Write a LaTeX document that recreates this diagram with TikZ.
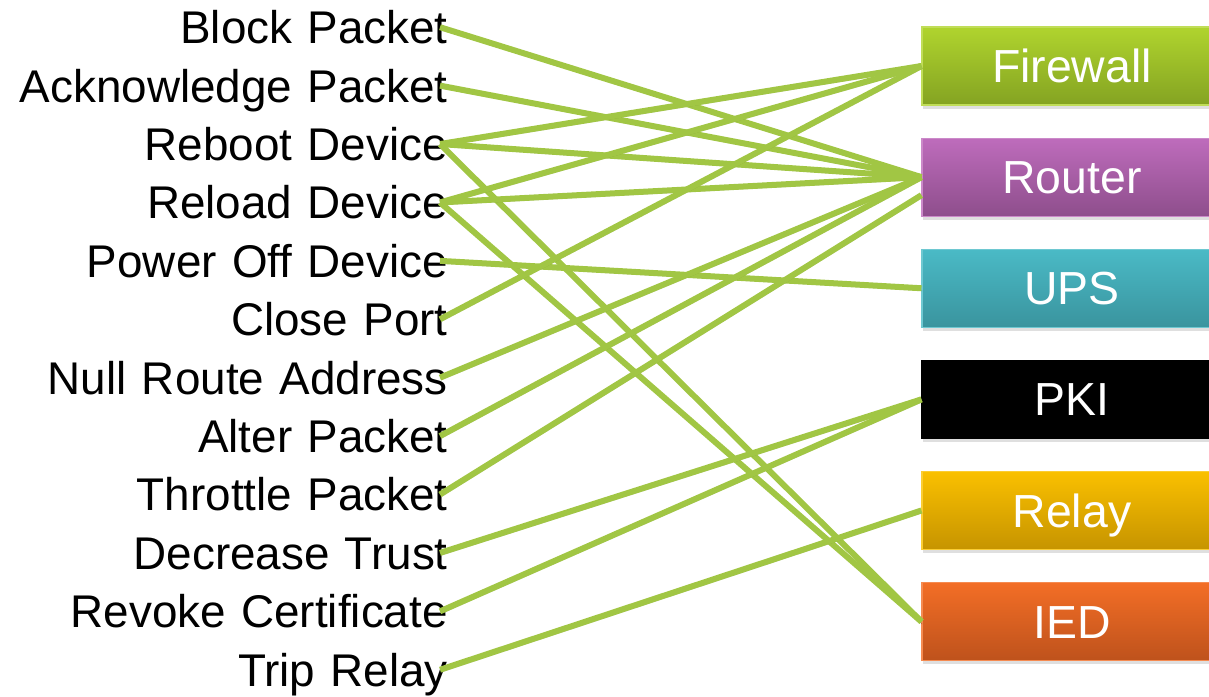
\documentclass[tikz,border=0pt]{standalone}
\usepackage{fontspec}
\setmainfont{Liberation Sans}
\usetikzlibrary{positioning,shadows}

\definecolor{linkgreen}{RGB}{161,198,68}
\definecolor{fwtop}{RGB}{176,212,46}
\definecolor{fwbot}{RGB}{132,163,34}
\definecolor{rttop}{RGB}{190,108,188}
\definecolor{rtbot}{RGB}{142,78,140}
\definecolor{upstop}{RGB}{74,186,198}
\definecolor{upsbot}{RGB}{58,148,158}
\definecolor{rlytop}{RGB}{250,192,0}
\definecolor{rlybot}{RGB}{198,148,0}
\definecolor{iedtop}{RGB}{243,110,38}
\definecolor{iedbot}{RGB}{190,82,28}

\begin{document}
\begin{tikzpicture}[node distance=17.75pt,
    act/.style={text width=11.5cm, align=right, inner sep=0pt, text height=23.4pt, text depth=0pt, font=\fontsize{32.6}{40}\selectfont},
    dev/.style={minimum width=7.5cm, minimum height=1.95cm, inner sep=0pt, line width=0.8pt, text=white, text height=23.6pt, text depth=0pt, font=\fontsize{33}{40}\selectfont, drop shadow={shadow xshift=0.5pt, shadow yshift=-2.5pt, opacity=0.25}},
    link/.style={draw=linkgreen, line width=0.15cm, preaction={draw=black, opacity=0.15, transform canvas={shift={(0.6pt,-1.8pt)}}}}]
    \useasboundingbox (0,0) rectangle (30.225,-17.4);

    % Actions
    \node[act, anchor=east] (blk) at (11.2,-0.68) {Block Packet};
    \node[act, below=of blk] (ack) {Acknowledge Packet};
    \node[act, below=of ack] (rbt) {Reboot Device};
    \node[act, below=of rbt] (rld) {Reload Device};
    \node[act, below=of rld] (pwr) {Power Off Device};
    \node[act, below=of pwr] (cls) {Close Port};
    \node[act, below=of cls] (nul) {Null Route Address};
    \node[act, below=of nul] (alt) {Alter Packet};
    \node[act, below=of alt] (thr) {Throttle Packet};
    \node[act, below=of thr] (dec) {Decrease Trust};
    \node[act, below=of dec] (rev) {Revoke Certificate};
    \node[act, below=of rev] (trp) {Trip Relay};

    % Devices
    \node[dev, top color=fwtop, bottom color=fwbot, draw=fwtop!80!white] (fw) at (26.8,-1.65) {Firewall};
    \node[dev, top color=rttop, bottom color=rtbot, draw=rttop!80!white, below=0.8cm of fw] (rtr) {Router};
    \node[dev, top color=upstop, bottom color=upsbot, draw=upstop!80!white, below=0.8cm of rtr] (ups) {UPS};
    \node[dev, fill=black, draw=black, below=0.8cm of ups] (pki) {PKI};
    \node[dev, top color=rlytop, bottom color=rlybot, draw=rlytop!80!white, below=0.8cm of pki] (rly) {Relay};
    \node[dev, top color=iedtop, bottom color=iedbot, draw=iedtop!80!white, below=0.8cm of rly] (ied) {IED};

    % Links
    \draw[link] ([xshift=-0.2cm]blk.east) -- (rtr.west);
    \draw[link] ([xshift=-0.2cm]ack.east) -- (rtr.west);
    \draw[link] ([xshift=-0.2cm]rbt.east) -- (fw.west);
    \draw[link] ([xshift=-0.2cm]rbt.east) -- (rtr.west);
    \draw[link] ([xshift=-0.2cm]rbt.east) -- (ied.west);
    \draw[link] ([xshift=-0.2cm]rld.east) -- (fw.west);
    \draw[link] ([xshift=-0.2cm]rld.east) -- (rtr.west);
    \draw[link] ([xshift=-0.2cm]rld.east) -- (ied.west);
    \draw[link] ([xshift=-0.2cm]pwr.east) -- (ups.west);
    \draw[link] ([xshift=-0.2cm]cls.east) -- (fw.west);
    \draw[link] ([xshift=-0.2cm]nul.east) -- (rtr.west);
    \draw[link] ([xshift=-0.2cm]alt.east) -- (rtr.west);
    \draw[link] ([xshift=-0.2cm]thr.east) -- ([yshift=-0.45cm]rtr.west);
    \draw[link] ([xshift=-0.2cm]dec.east) -- (pki.west);
    \draw[link] ([xshift=-0.2cm]rev.east) -- (pki.west);
    \draw[link] ([xshift=-0.2cm]trp.east) -- (rly.west);
\end{tikzpicture}
\end{document}
